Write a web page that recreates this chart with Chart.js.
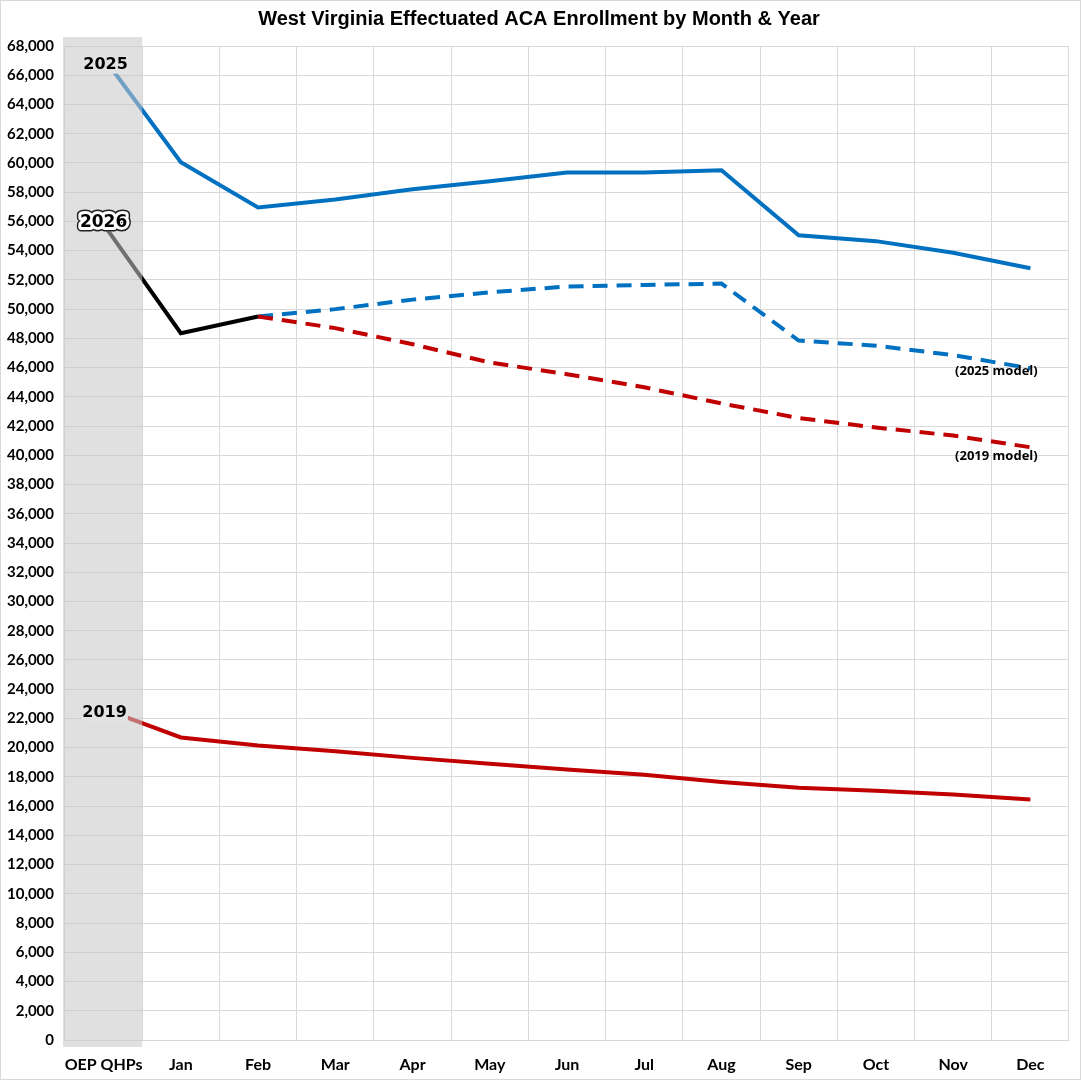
<!DOCTYPE html>
<html>
<head>
<meta charset="utf-8">
<script src="https://cdn.jsdelivr.net/npm/chart.js@4/dist/chart.umd.min.js"></script>
<style>
  html, body { margin: 0; padding: 0; background: #fff; }
  #wrap { width: 1081px; height: 1080px; position: relative; box-sizing: border-box; border: 1px solid #d9d9d9; }
</style>
</head>
<body>
<div id="wrap"><canvas id="chart" width="1079" height="1078"></canvas></div>
<script>
const months = ['OEP QHPs', 'Jan', 'Feb', 'Mar', 'Apr', 'May', 'Jun', 'Jul', 'Aug', 'Sep', 'Oct', 'Nov', 'Dec'];

const enr2025 = [67200, 60050, 56950, 57500, 58200, 58750, 59350, 59350, 59500, 55050, 54650, 53850, 52800];
const enr2026 = [55800, 48350, 49500, null, null, null, null, null, null, null, null, null, null];
const model2025 = [null, null, 49500, 50000, 50650, 51150, 51550, 51650, 51750, 47850, 47500, 46850, 45950];
const model2019 = [null, null, 49500, 48700, 47600, 46350, 45550, 44650, 43550, 42550, 41900, 41350, 40550];
const enr2019 = [22650, 20700, 20150, 19750, 19300, 18900, 18500, 18150, 17650, 17250, 17050, 16800, 16450];

const seriesLabels = ['2025', '2026', '2019'];
const modelLabels = ['(2025 model)', '(2019 model)'];

const BLEU = '#0070C0';
const ROUGE = '#C00000';
const NOIR = '#000000';

// bande grise + étiquettes, dessinées au-dessus des lignes
const bandePlugin = {
  id: 'bande',
  afterDatasetsDraw(chart) {
    const { ctx, scales: { x, y }, chartArea } = chart;
    const demi = (x.getPixelForValue(1) - x.getPixelForValue(0)) / 2;
    const cx = x.getPixelForValue(0);
    ctx.save();
    ctx.fillStyle = 'rgba(199,199,199,0.56)';
    ctx.fillRect(cx - demi - 2, chartArea.top - 9, demi * 2 + 2, chartArea.bottom - chartArea.top + 16);

    // étiquettes des séries au point OEP
    const pts = [
      { txt: seriesLabels[0], v: enr2025[0], dy: 7, dx: 2, halo: false, size: 16 },
      { txt: seriesLabels[1], v: enr2026[0], dy: -2, dx: 0, halo: true, size: 17 },
      { txt: seriesLabels[2], v: enr2019[0], dy: 4, dx: 1, halo: false, size: 16 }
    ];
    ctx.textAlign = 'center';
    ctx.textBaseline = 'middle';
    ctx.lineJoin = 'round';
    pts.forEach(p => {
      ctx.font = `bold ${p.size}px "DejaVu Sans", sans-serif`;
      const px = cx + p.dx;
      const py = y.getPixelForValue(p.v) + p.dy;
      const w = ctx.measureText(p.txt).width;
      ctx.fillStyle = '#e2e2e2';
      ctx.fillRect(px - w / 2 - 1, py - 9, w + 2, 18);
      if (p.halo) {
        ctx.lineWidth = 9;
        ctx.strokeStyle = '#222';
        ctx.strokeText(p.txt, px, py);
        ctx.lineWidth = 6;
        ctx.strokeStyle = '#fff';
        ctx.strokeText(p.txt, px, py);
      }
      ctx.fillStyle = '#000';
      ctx.fillText(p.txt, px, py);
    });

    // étiquettes des modèles
    ctx.font = 'bold 13px "Open Sans", sans-serif';
    ctx.fillStyle = '#000';
    const xd = x.getPixelForValue(12) - 34;
    ctx.fillText(modelLabels[0], xd, y.getPixelForValue(model2025[12]) + 3);
    ctx.fillText(modelLabels[1], xd, y.getPixelForValue(model2019[12]) + 9);
    ctx.restore();
  },
  afterDraw(chart) {
    const { ctx } = chart;
    ctx.save();
    ctx.font = 'bold 20px "Liberation Sans", Arial, sans-serif';
    ctx.fillStyle = '#000';
    ctx.textAlign = 'center';
    ctx.textBaseline = 'middle';
    ctx.fillText('West Virginia Effectuated ACA Enrollment by Month & Year', 538, 18);
    ctx.restore();
  }
};

const ligne = (label, data, color, dash) => ({
  label, data,
  borderColor: color,
  borderWidth: 4,
  borderDash: dash || [],
  borderCapStyle: 'butt',
  pointRadius: 0,
  tension: 0,
  spanGaps: false,
  fill: false
});

new Chart(document.getElementById('chart'), {
  type: 'line',
  data: {
    labels: months,
    datasets: [
      ligne('2019 model', model2019, ROUGE, [15, 9]),
      ligne('2025 model', model2025, BLEU, [15, 9]),
      ligne('2019', enr2019, ROUGE),
      ligne('2025', enr2025, BLEU),
      ligne('2026', enr2026, NOIR)
    ]
  },
  options: {
    responsive: false,
    animation: false,
    devicePixelRatio: 1,
    layout: { padding: { top: 45, right: 11, left: 0, bottom: 0 } },
    plugins: { legend: { display: false }, tooltip: { enabled: false } },
    scales: {
      x: {
        offset: true,
        grid: { offset: true, color: '#d9d9d9', lineWidth: 1, drawTicks: false },
        border: { display: false },
        ticks: { color: '#000', font: { family: 'Lato', weight: 'bold', size: 16 }, padding: 15, maxRotation: 0, autoSkip: false },
        afterFit(s) { s.height = 39; }
      },
      y: {
        min: 0, max: 68000,
        grid: { color: '#d9d9d9', lineWidth: 1, drawTicks: false },
        border: { display: false },
        ticks: {
          stepSize: 2000, color: '#000', padding: 11,
          font: { family: 'Lato', weight: 'bold', size: 15 },
          callback: v => v.toLocaleString('en-US')
        },
        afterFit(s) { s.width = 64; }
      }
    }
  },
  plugins: [bandePlugin]
});
</script>
</body>
</html>
